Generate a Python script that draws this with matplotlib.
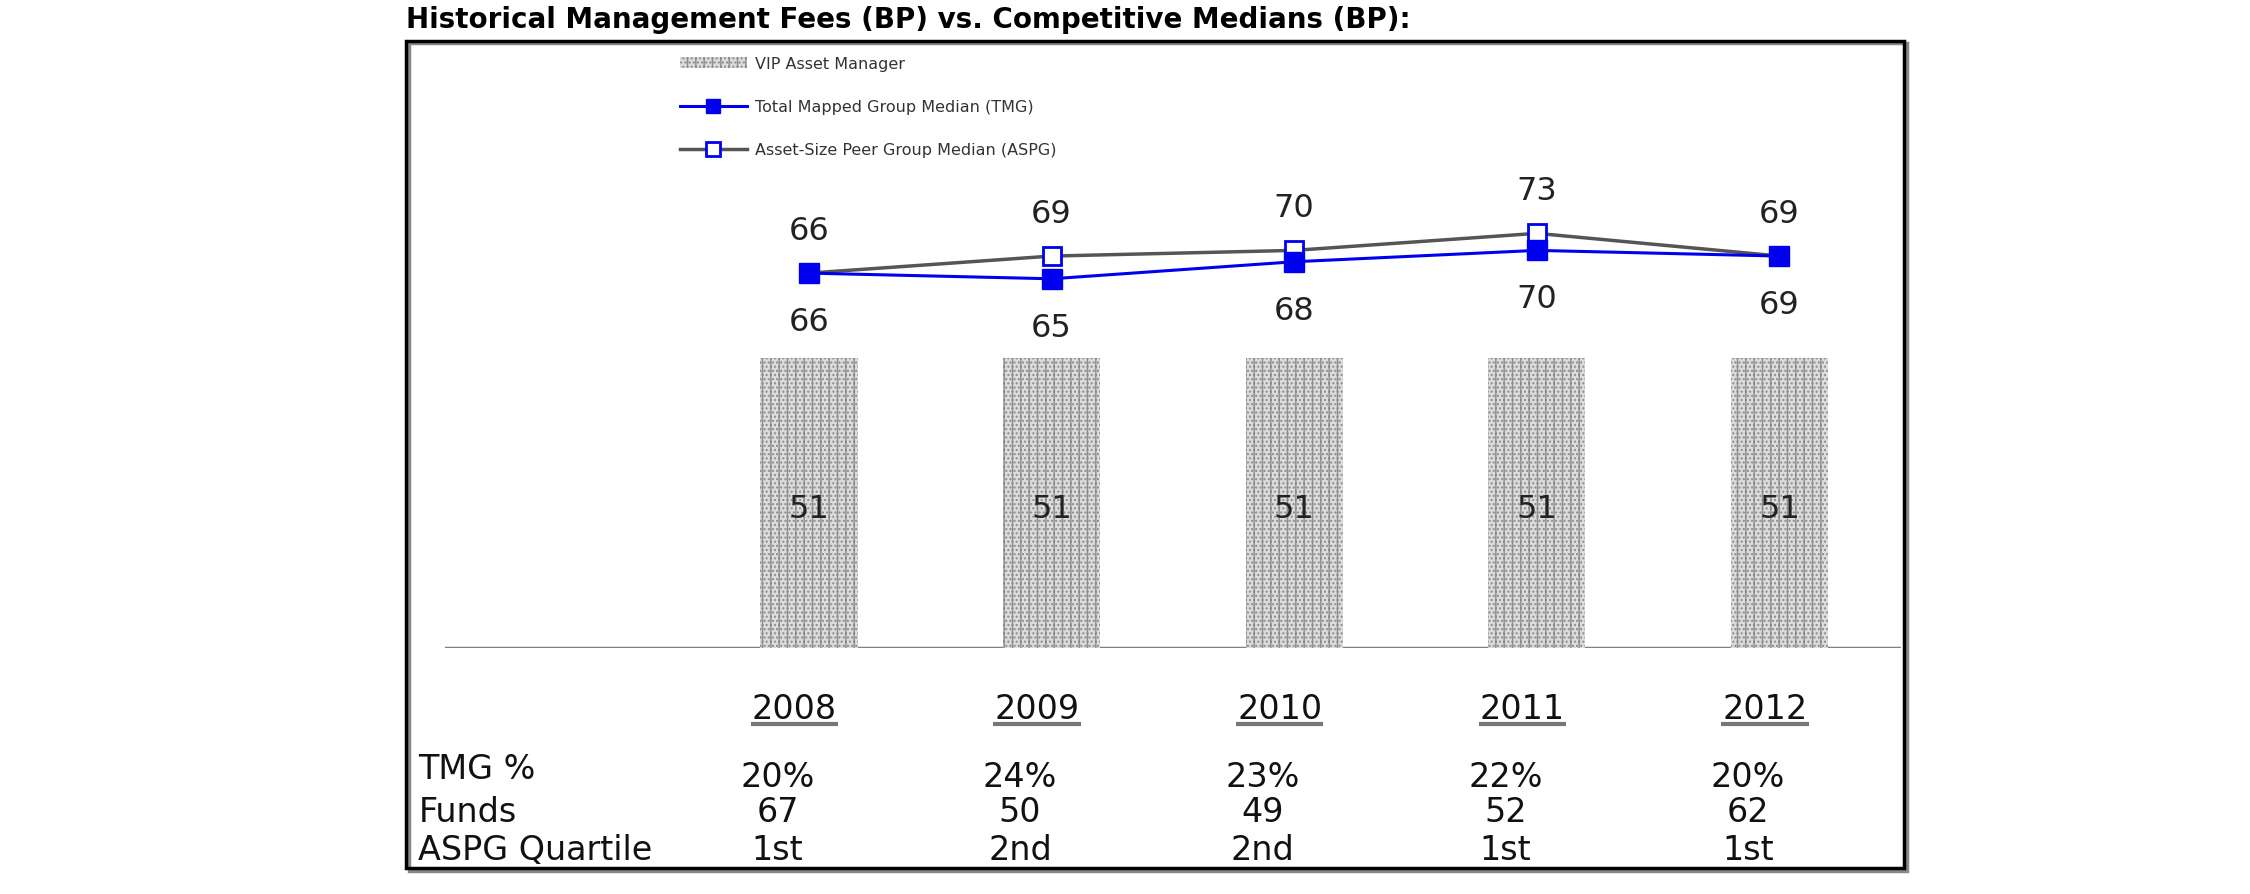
import matplotlib
matplotlib.use('Agg')
import numpy as np
from matplotlib import pyplot as plt
from matplotlib.patches import Rectangle

# data
years = ['2008', '2009', '2010', '2011', '2012']
vip_fee = [51, 51, 51, 51, 51]
tmg_median = [66, 65, 68, 70, 69]
aspg_median = [66, 69, 70, 73, 69]
tmg_pct = ['20%', '24%', '23%', '22%', '20%']
funds = ['67', '50', '49', '52', '62']
aspg_quartile = ['1st', '2nd', '2nd', '1st', '1st']
row_labels = ['TMG %', 'Funds', 'ASPG Quartile']

plt.rcParams['font.family'] = ['DejaVu Sans']
plt.rcParams['hatch.linewidth'] = 1.0

fig = plt.figure(figsize=(22.5, 8.95), dpi=100)
ax = fig.add_axes([0.1978, 0.2749, 0.647, 0.6346])

x = np.arange(len(years))

# bars
bars = ax.bar(x, vip_fee, width=0.40, color='#dcdcdc', edgecolor='#8c8c8c',
              linewidth=0, hatch='||....', label='VIP Asset Manager', zorder=2)
for xi, v in zip(x, vip_fee):
    ax.text(xi, v / 2 - 0.9, str(v), ha='center', va='center',
            fontsize=23, color='#222222', zorder=5)

# lines
ax.plot(x, aspg_median, color='#555555', linewidth=2.5, marker='s',
        markersize=12.5, markerfacecolor='white', markeredgecolor='#0000ee',
        markeredgewidth=2, label='Asset-Size Peer Group Median (ASPG)', zorder=3)
ax.plot(x, tmg_median, color='#0000ee', linewidth=2.2, marker='s',
        markersize=14, markerfacecolor='#0000ee', markeredgecolor='#0000ee',
        label='Total Mapped Group Median (TMG)', zorder=4)

for xi, v in zip(x, aspg_median):
    ax.annotate(str(v), (xi, v), xytext=(0, 31), textcoords='offset points',
                ha='center', va='center', fontsize=23, color='#222222')
for xi, v in zip(x, tmg_median):
    ax.annotate(str(v), (xi, v), xytext=(0, -35), textcoords='offset points',
                ha='center', va='center', fontsize=23, color='#222222')

# baseline
ax.axhline(0, color='#808080', linewidth=2.5, zorder=1)

ax.set_xlim(-1.5, 4.5)
ax.set_ylim(0, 100)
ax.axis('off')

# year labels with underline
for xi, yr in zip(x, years):
    ax.text(xi - 0.06, -12.3, yr, ha='center', va='baseline', fontsize=24,
            color='#111111', clip_on=False)
    ax.plot([xi - 0.06 - 0.18, xi - 0.06 + 0.18], [-13.3, -13.3],
            color='#777777', linewidth=3, clip_on=False, solid_capstyle='butt')

# table below
rows = [tmg_pct, funds, aspg_quartile]
label_y = [-22.9, -30.5, -37.1]
value_y = [-24.3, -30.5, -37.1]
for lbl, vals, ly, vy in zip(row_labels, rows, label_y, value_y):
    ax.text(-1.61, ly, lbl, ha='left', va='baseline', fontsize=24,
            color='#111111', clip_on=False)
    for xi, v in zip(x, vals):
        ax.text(xi - 0.13, vy, v, ha='center', va='baseline', fontsize=24,
                color='#111111', clip_on=False)

# legend
h, l = ax.get_legend_handles_labels()
order = [2, 1, 0]
leg = ax.legend([h[i] for i in order], [l[i] for i in order],
                loc='upper left', bbox_to_anchor=(0.302, 0.936),
                bbox_transform=fig.transFigure, frameon=False, fontsize=11.5,
                handlelength=4.2, handletextpad=0.5, labelspacing=1.75,
                borderpad=0, borderaxespad=0, numpoints=1, markerscale=0.75)
for t in leg.get_texts():
    t.set_color('#333333')

# outer frame
fig.patches.append(Rectangle((0.1818, 0.0262), 0.6658, 0.925,
                             transform=fig.transFigure, fill=False,
                             edgecolor='#888888', linewidth=2.5))
fig.patches.append(Rectangle((0.1804, 0.0285), 0.6658, 0.925,
                             transform=fig.transFigure, fill=False,
                             edgecolor='black', linewidth=2.5))

# title
fig.text(0.1805, 0.978, 'Historical Management Fees (BP) vs. Competitive Medians (BP):',
         ha='left', va='center', fontsize=20, fontweight='bold', color='black')

fig.savefig('out.png', dpi=100)
